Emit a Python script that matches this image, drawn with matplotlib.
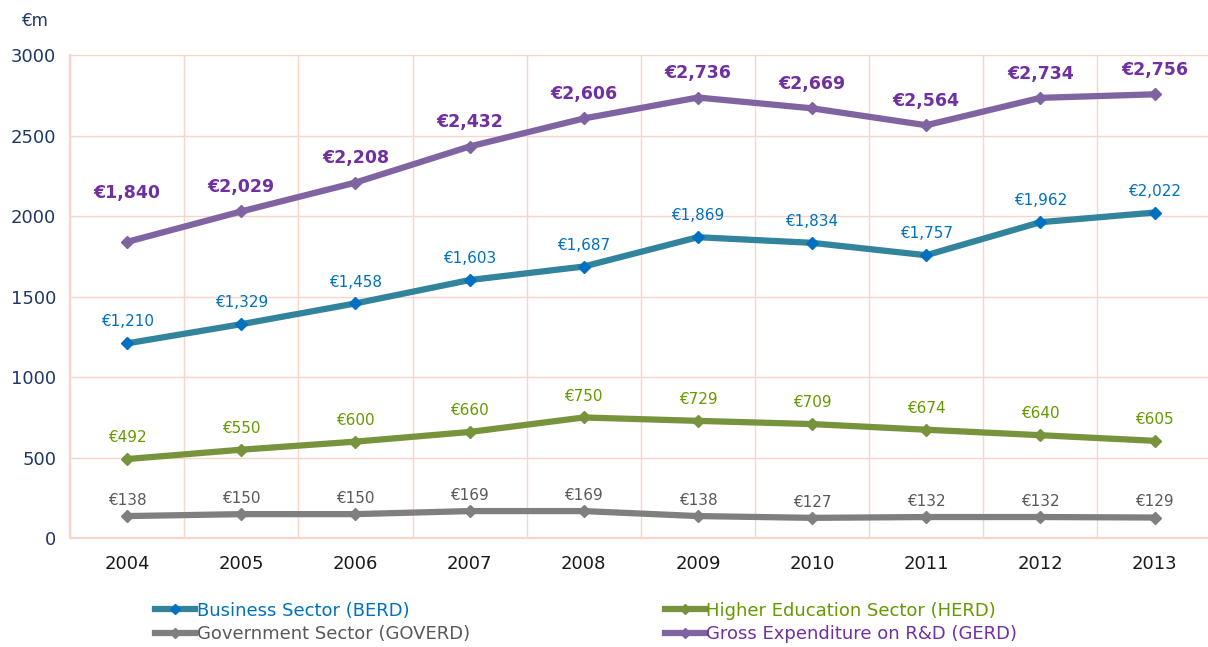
import numpy as np
import matplotlib.pyplot as plt
from matplotlib.lines import Line2D

years = ['2004', '2005', '2006', '2007', '2008', '2009', '2010', '2011', '2012', '2013']
berd = [1210, 1329, 1458, 1603, 1687, 1869, 1834, 1757, 1962, 2022]
herd = [492, 550, 600, 660, 750, 729, 709, 674, 640, 605]
goverd = [138, 150, 150, 169, 169, 138, 127, 132, 132, 129]
gerd = [1840, 2029, 2208, 2432, 2606, 2736, 2669, 2564, 2734, 2756]

# name, values, line colour, marker colour, label colour, label size, bold, label offset
series = [
    ('Business Sector (BERD)', berd, '#31849B', '#0070C0', '#0070C0', 11, False, 10),
    ('Higher Education Sector (HERD)', herd, '#77933C', '#77933C', '#669900', 11, False, 10),
    ('Government Sector (GOVERD)', goverd, '#7F7F7F', '#7F7F7F', '#595959', 11, False, 6),
    ('Gross Expenditure on R&D (GERD)', gerd, '#8064A2', '#8064A2', '#7030A0', 12.5, True, 11),
]

plt.rcParams['font.family'] = ['DejaVu Sans']
fig = plt.figure(figsize=(12.08, 6.47), dpi=100)
ax = fig.add_axes([0.058, 0.168, 0.945, 0.747])

x = np.arange(len(years))
for name, vals, lc, mc, tc, fs, bold, off in series:
    ax.plot(x, vals, color=lc, lw=4.5, marker='D', ms=6, mfc=mc, mec=mc,
            solid_joinstyle='miter', zorder=3)
    for i, (xi, v) in enumerate(zip(x, vals)):
        dy = off
        if bold and i == 0:
            dy = off + 18  # first GERD label sits higher in the original
        ax.annotate('€{:,}'.format(v), (xi, v), xytext=(0, dy),
                    textcoords='offset points', ha='center', va='bottom',
                    color=tc, fontsize=fs, fontweight='bold' if bold else 'normal')

grid_c = '#FAD4C8'
ax.set_xlim(-0.5, len(years) - 0.5)
ax.set_ylim(0, 3000)
ax.set_yticks(np.arange(0, 3001, 500))
ax.set_xticks(np.arange(-0.5, len(years), 1), minor=False)
ax.set_xticklabels([])
ax.set_xticks(x, minor=True)
ax.set_xticklabels(years, minor=True)
ax.tick_params(axis='x', which='both', length=0, pad=12, labelsize=13, labelcolor='#1a1a1a')
ax.tick_params(axis='y', length=0, pad=10, labelsize=13, labelcolor='#1F3864')
ax.grid(True, which='major', color=grid_c, lw=1)
for s in ['top', 'right']:
    ax.spines[s].set_visible(False)
for s in ['left', 'bottom']:
    ax.spines[s].set_color(grid_c)
    ax.spines[s].set_linewidth(1.5)

fig.text(0.018, 0.968, '€m', fontsize=12, color='#1F3864', ha='left', va='center')

handles = []
labels = []
text_cols = []
for name, vals, lc, mc, tc, fs, bold, off in series:
    handles.append(Line2D([], [], color=lc, lw=4.5, marker='D', ms=5, mfc=mc, mec=mc))
    labels.append(name)
    text_cols.append(tc)
# ncol=2 fills column-major: BERD, GOVERD | HERD, GERD
order = [0, 2, 1, 3]
leg = fig.legend([handles[i] for i in order], [labels[i] for i in order],
                 loc='lower left', bbox_to_anchor=(0.115, -0.019), ncol=2,
                 frameon=False, fontsize=13, handlelength=2.2, handletextpad=0.1,
                 columnspacing=10.8, labelspacing=0.3)
for t, i in zip(leg.get_texts(), order):
    t.set_color(text_cols[i])

fig.savefig('out.png', dpi=100)
